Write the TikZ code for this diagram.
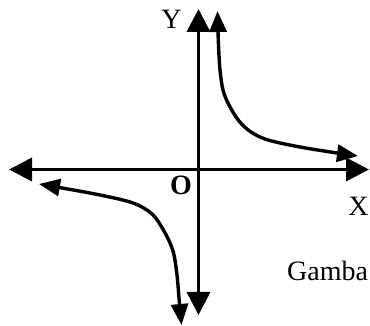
\documentclass[tikz,border=0pt]{standalone}
\usepackage{fontspec}
\setmainfont{Liberation Serif}
\usetikzlibrary{arrows.meta}
\begin{document}
\begin{tikzpicture}[x=1pt,y=-1pt,
  axis/.style={line width=3.6pt,{Triangle[length=23pt,width=23pt]}-{Triangle[length=23pt,width=23pt]}},
  curve/.style={line width=3.4pt,{Triangle[length=21pt,width=17pt]}-{Triangle[length=21pt,width=17pt]}},
  lbl/.style={inner sep=0pt,font=\fontsize{28}{30}\selectfont}]
\useasboundingbox (0,0) rectangle (370,326);
\coordinate (top) at (198.5,9);
\coordinate (bot) at (198.5,315);
\coordinate (left) at (9,169.5);
\coordinate (right) at (369,169.5);
\draw[axis] (top) -- (bot);
\draw[axis] (left) -- (right);
\draw[curve] plot[smooth,tension=0.55] coordinates {(217.5,11) (218.5,45) (220,70) (223,90) (229,105) (239,121) (251,132) (268,140) (300,147) (337,153) (358,156)};
\draw[curve] plot[smooth,tension=0.55] coordinates {(39,184) (62,188) (100,195) (133,203) (152,214) (164,231) (173,251) (177,275) (179,298) (181.5,325)};
\node[lbl] (ylab) at (171.5,19.5) {Y};
\node[lbl,font=\fontsize{28}{30}\selectfont\bfseries] (olab) at (181,185) {O};
\node[lbl] (xlab) at (358.5,206) {X};
\node[lbl,anchor=base west] (cap) at (287,280) {Gamba};
\end{tikzpicture}
\end{document}
